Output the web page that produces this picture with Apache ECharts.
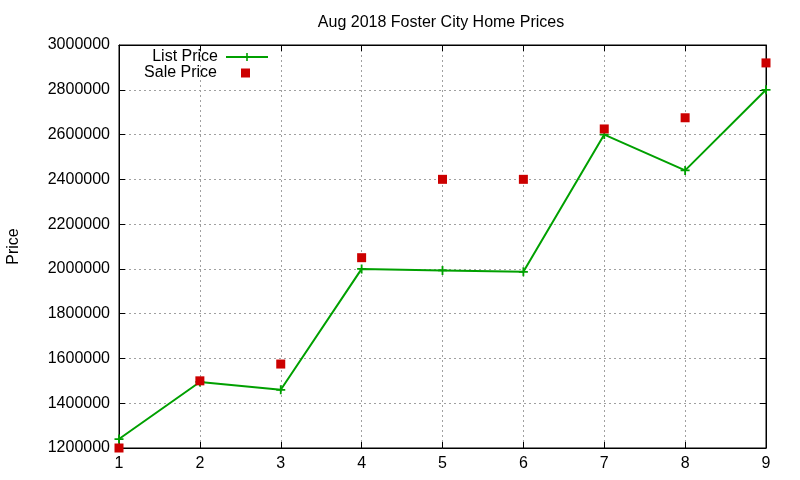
<!DOCTYPE html>
<html><head><meta charset="utf-8">
<script src="https://cdn.jsdelivr.net/npm/echarts@6/dist/echarts.min.js"></script>
<style>html,body{margin:0;padding:0;background:#fff}#c{width:800px;height:480px}</style>
</head><body><div id="c"></div>
<script>
const houses = [1, 2, 3, 4, 5, 6, 7, 8, 9];
const listPrice = [1240000, 1495000, 1460000, 2000000, 1993000, 1987000, 2600000, 2440000, 2800000];
const salePrice = [1200000, 1500000, 1575000, 2050000, 2400000, 2400000, 2625000, 2675000, 2920000];
const titleText = 'Aug 2018 Foster City Home Prices';
const yName = 'Price';

const FONT = 'Liberation Sans';
const plus = 'path://M4,0H6V4H10V6H6V10H4V6H0V4H4Z';
const chart = echarts.init(document.getElementById('c'), null, {renderer: 'canvas'});
const axisCommon = {
  axisLine: {show: true, lineStyle: {color: '#000', width: 1}},
  axisTick: {show: true, inside: true, length: 6, lineStyle: {color: '#000'}},
};
chart.setOption({
  animation: false,
  backgroundColor: '#fff',
  textStyle: {fontFamily: FONT},
  title: {text: titleText, left: 436, textAlign: 'center', top: 10,
    textStyle: {fontFamily: FONT, fontSize: 16, fontWeight: 'normal', color: '#000'}},
  grid: {left: 119, right: 34, top: 45, bottom: 32, show: true, borderColor: '#000', borderWidth: 1,
    outerBoundsMode: 'none', containLabel: false},
  legend: [
    {data: ['List Price'], right: 526, top: 44, align: 'right', itemWidth: 42, itemHeight: 10, itemGap: 4,
     textStyle: {fontFamily: FONT, fontSize: 16, color: '#000', padding: [0, 3, 0, 0]}},
    {data: ['Sale Price'], right: 545, top: 60, align: 'right', itemWidth: 9, itemHeight: 9, itemGap: 4,
     textStyle: {fontFamily: FONT, fontSize: 16, color: '#000', padding: [0, 19, 0, 0]}}
  ],
  xAxis: [
    Object.assign({type: 'value', min: 1, max: 9, interval: 1, position: 'bottom',
      axisLabel: {fontFamily: FONT, fontSize: 16, color: '#000', margin: 8},
      splitLine: {show: true, lineStyle: {color: '#a0a0a0', type: [2, 3], width: 1}}}, axisCommon),
    Object.assign({type: 'value', min: 1, max: 9, interval: 1, position: 'top',
      axisLabel: {show: false}, splitLine: {show: false}}, axisCommon)
  ],
  yAxis: [
    Object.assign({type: 'value', min: 1200000, max: 3000000, interval: 200000, position: 'left',
      name: yName, nameLocation: 'middle', nameGap: 97, nameRotate: 90,
      nameTextStyle: {fontFamily: FONT, fontSize: 16, color: '#000'},
      axisLabel: {fontFamily: FONT, fontSize: 16, color: '#000', margin: 9, formatter: v => String(v)},
      splitLine: {show: true, lineStyle: {color: '#a0a0a0', type: [2, 3], width: 1}}}, axisCommon),
    Object.assign({type: 'value', min: 1200000, max: 3000000, interval: 200000, position: 'right',
      axisLabel: {show: false}, splitLine: {show: false}}, axisCommon)
  ],
  series: [
    {name: 'List Price', type: 'line', data: houses.map((h, i) => [h, listPrice[i]]),
     symbol: plus, symbolSize: 9, showAllSymbol: true,
     itemStyle: {color: '#00a000', opacity: 1}, lineStyle: {color: '#00a000', width: 2}, z: 3},
    {name: 'Sale Price', type: 'scatter', data: houses.map((h, i) => [h, salePrice[i]]),
     symbol: 'rect', symbolSize: 9, itemStyle: {color: '#cc0000', opacity: 1}, z: 4}
  ]
});
</script></body></html>
